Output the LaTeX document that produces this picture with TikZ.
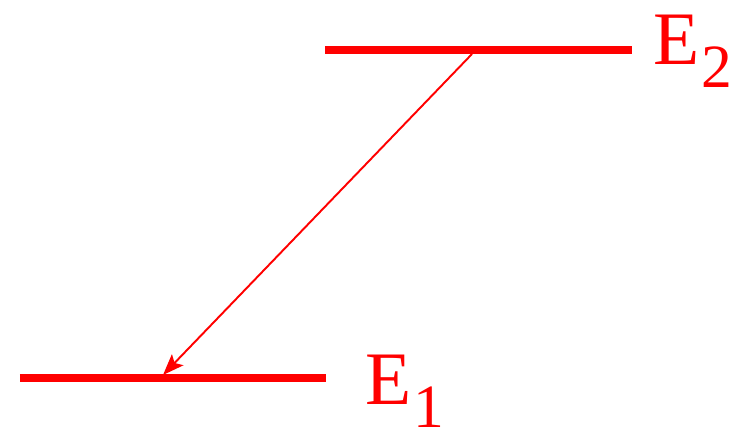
\documentclass[tikz,border=0pt]{standalone}
\usepackage{fontspec}
\setmainfont{Liberation Serif}
\usetikzlibrary{positioning, arrows.meta}
\definecolor{levelred}{RGB}{255,0,0}
\newcommand{\lvlsub}[1]{{\fontsize{35}{35}\selectfont\kern1pt\raisebox{-0.45cm}{#1}}}
\tikzset{
  level/.style={draw=levelred, line width=4.5pt},
  levellabel/.style={
    text=levelred, font=\fontsize{43}{43}\selectfont,
    inner sep=0pt, anchor=base west
  },
  decay/.style={-{Stealth[length=12pt, width=9pt, inset=2.5pt]}, draw=levelred, line width=1.1pt}
}

\begin{document}
\begin{tikzpicture}
  \useasboundingbox (0,0) rectangle (14.74,8.7);
  % energy levels
  \coordinate (up-l) at (6.5,7.7);
  \coordinate (up-r) at (12.64,7.7);
  \coordinate (low-l) at (0.4,1.14);
  \coordinate (low-r) at (6.52,1.14);
  \draw[level] (up-l) -- (up-r);
  \draw[level] (low-l) -- (low-r);
  \node[levellabel] (e2) at (13.06,7.4) {E\lvlsub{2}};
  \node[levellabel] (e1) at (7.3,0.6) {E\lvlsub{1}};

  % transition
  \coordinate (start) at (9.44,7.62);
  \coordinate (stop) at (3.26,1.2);
  \draw[decay] (start) -- (stop);
\end{tikzpicture}
\end{document}
